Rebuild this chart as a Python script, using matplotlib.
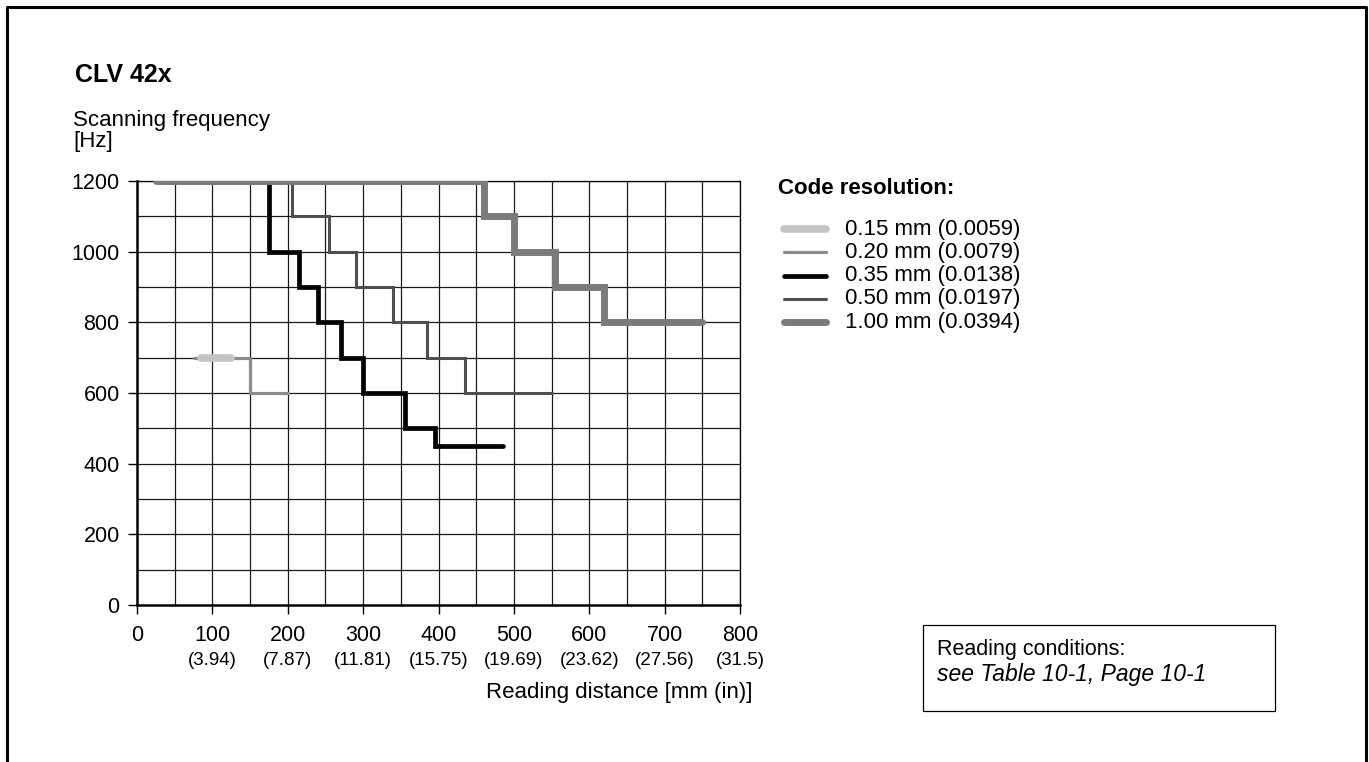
import matplotlib.pyplot as plt
from matplotlib.patches import Rectangle
from matplotlib.lines import Line2D
import matplotlib.transforms as mtransforms

plt.rcParams['font.family'] = ['Liberation Sans', 'DejaVu Sans']

# step curves: x breakpoints [mm] and frequency levels [Hz] (steps-post)
labels = ['0.15 mm (0.0059)', '0.20 mm (0.0079)', '0.35 mm (0.0138)',
          '0.50 mm (0.0197)', '1.00 mm (0.0394)']
x_015 = [85, 125]
y_015 = [700, 700]
x_020 = [75, 150, 200]
y_020 = [700, 600, 600]
x_035 = [175, 175, 215, 240, 270, 300, 355, 395, 485]
y_035 = [1200, 1000, 900, 800, 700, 600, 500, 450, 450]
x_050 = [205, 205, 255, 290, 340, 385, 435, 550]
y_050 = [1200, 1100, 1000, 900, 800, 700, 600, 600]
x_100 = [25, 460, 500, 555, 620, 750]
y_100 = [1200, 1100, 1000, 900, 800, 800]

mm_ticks = [0, 100, 200, 300, 400, 500, 600, 700, 800]
in_labels = ['', '(3.94)', '(7.87)', '(11.81)', '(15.75)', '(19.69)',
             '(23.62)', '(27.56)', '(31.5)']
hz_ticks = [0, 200, 400, 600, 800, 1000, 1200]

W, H = 1369, 762
fig = plt.figure(figsize=(W / 100, H / 100), dpi=100)
ax = fig.add_axes([137 / W, 1 - 605 / H, 603 / W, 424 / H])

# grid every 50 mm / 100 Hz
for gx in range(50, 801, 50):
    ax.axvline(gx, color='#1a1a1a', lw=0.9, zorder=1)
for gy in range(100, 1201, 100):
    ax.axhline(gy, color='#1a1a1a', lw=0.9, zorder=1)

styles = [
    (x_015, y_015, '#c4c4c4', 5.5),
    (x_020, y_020, '#8c8c8c', 2.3),
    (x_035, y_035, '#000000', 3.4),
    (x_050, y_050, '#4f4f4f', 2.2),
    (x_100, y_100, '#7b7b7b', 5.0),
]
zorders = [6, 3, 4, 3, 5]
for (xs, ys, c, lw), lab, z in zip(styles, labels, zorders):
    ax.plot(xs, ys, drawstyle='steps-post', color=c, lw=lw,
            solid_capstyle='round', solid_joinstyle='miter',
            label=lab, zorder=z)

ax.set_xlim(0, 800)
ax.set_ylim(0, 1200)
ax.set_yticks(hz_ticks)
ax.set_yticklabels([str(v) for v in hz_ticks], fontsize=15.5)
ax.set_xticks(mm_ticks)
ax.set_xticklabels([str(v) for v in mm_ticks], fontsize=15.5)
ax.tick_params(axis='both', direction='out', length=6.5, width=1.0, color='black')
ax.tick_params(axis='x', pad=8)
ax.tick_params(axis='y', pad=6)
for side in ['top', 'right']:
    ax.spines[side].set_linewidth(0.9)
for side in ['left', 'bottom']:
    ax.spines[side].set_linewidth(1.8)

trans = mtransforms.blended_transform_factory(ax.transData, ax.transAxes)
for xv, lab in zip(mm_ticks, in_labels):
    ax.text(xv, -0.132, lab, transform=trans, ha='center', va='center',
            fontsize=13.5)

ax.text((752 - 137) / 603, -0.206, 'Reading distance [mm (in)]',
        transform=ax.transAxes, ha='right', va='center', fontsize=16)

fig.text(75 / W, 1 - 75 / H, 'CLV 42x', fontsize=18, fontweight='bold',
         ha='left', va='center')
fig.text(73 / W, 1 - 131 / H, 'Scanning frequency\n[Hz]', fontsize=16,
         ha='left', va='center', linespacing=0.95)

# legend drawn by hand to match the row pitch
fig.text(778 / W, 1 - 189 / H, 'Code resolution:', fontsize=16,
         fontweight='bold', ha='left', va='center')
for i, ((xs, ys, c, lw), lab) in enumerate(zip(styles, labels)):
    yy = 1 - (229 + i * 23.3) / H
    fig.add_artist(Line2D([784 / W, 826 / W], [yy, yy], color=c, lw=lw,
                          solid_capstyle='round', transform=fig.transFigure))
    fig.text(845 / W, yy, lab, fontsize=16, ha='left', va='center')

# reading conditions box
fig.patches.append(Rectangle((923 / W, 1 - 711 / H), 352 / W, 86 / H,
                             transform=fig.transFigure, fill=False,
                             edgecolor='black', lw=0.9))
fig.text(937 / W, 1 - 650 / H, 'Reading conditions:', fontsize=15.5,
         ha='left', va='center')
fig.text(937 / W, 1 - 674 / H, 'see Table 10-1, Page 10-1', fontsize=16.5,
         style='italic', ha='left', va='center')

# page frame (open at the bottom)
fig.add_artist(Line2D([7 / W, 7 / W, 1366 / W, 1366 / W],
                      [0, 1 - 7 / H, 1 - 7 / H, 0],
                      transform=fig.transFigure, color='black', lw=2.2))

fig.savefig('out.png', dpi=100)
